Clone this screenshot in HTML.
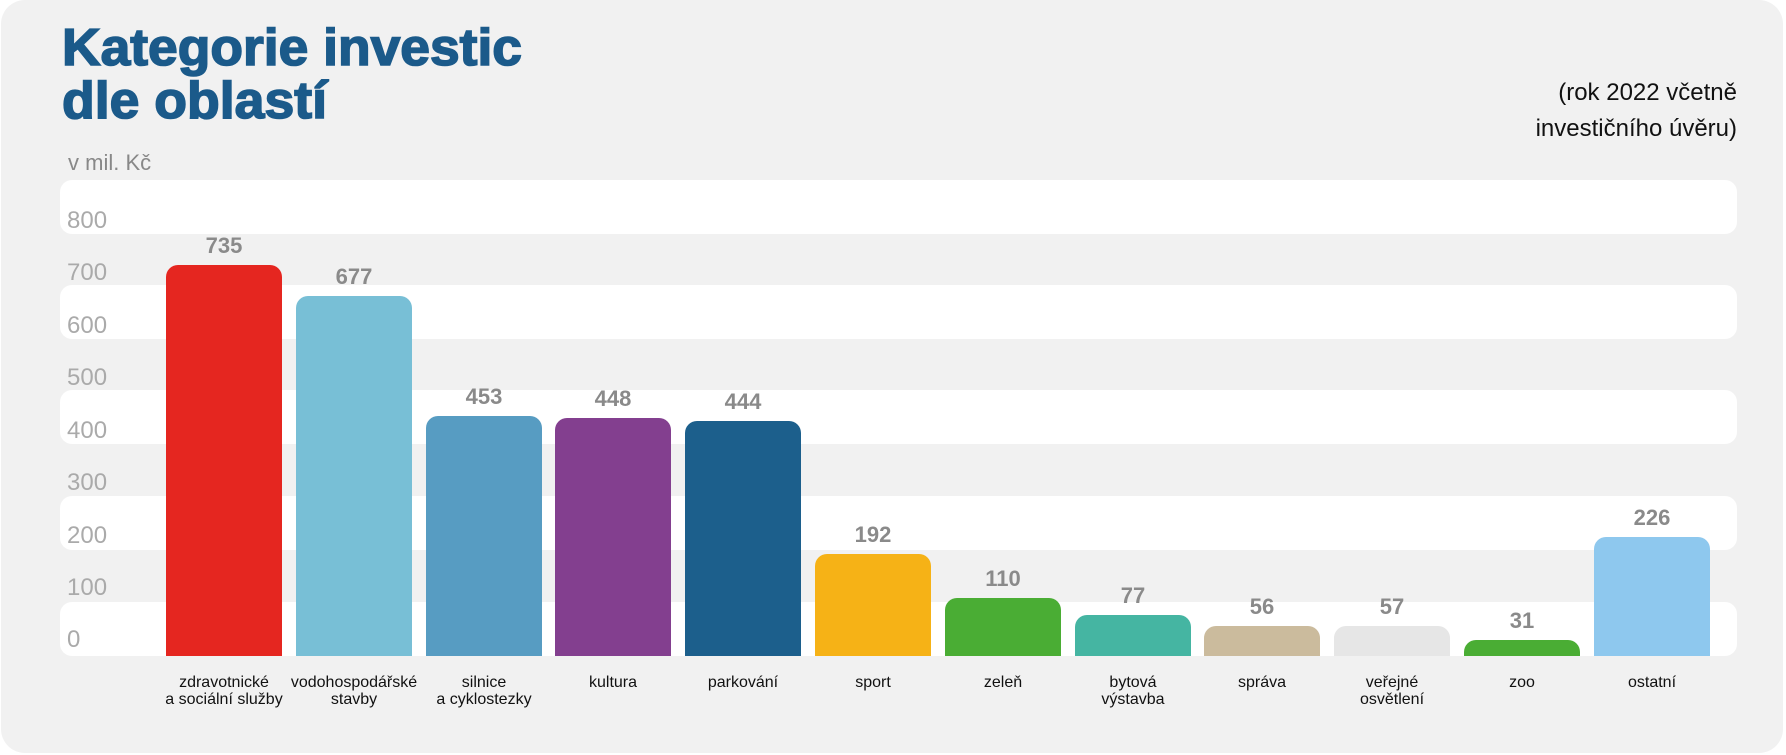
<!DOCTYPE html>
<html><head><meta charset="utf-8"><style>
html,body{margin:0;padding:0;background:#fff;}
svg{display:block;font-family:"Liberation Sans",sans-serif;}
</style></head><body>
<svg width="1786" height="755" viewBox="0 0 1786 755" xmlns="http://www.w3.org/2000/svg">
<rect x="1" y="0" width="1782" height="753" rx="24" fill="#f1f1f1"/>
<text x="62" y="65" font-size="52" font-weight="bold" fill="#1b5a8a" stroke="#1b5a8a" stroke-width="1.6" textLength="460" lengthAdjust="spacingAndGlyphs">Kategorie investic</text>
<text x="62" y="118" font-size="52" font-weight="bold" fill="#1b5a8a" stroke="#1b5a8a" stroke-width="1.6" textLength="265" lengthAdjust="spacingAndGlyphs">dle oblastí</text>
<text x="1737" y="100" font-size="24" fill="#111" text-anchor="end">(rok 2022 včetně</text>
<text x="1737" y="136" font-size="24" fill="#111" text-anchor="end">investičního úvěru)</text>
<text x="68" y="170" font-size="22" fill="#888">v mil. Kč</text>
<g fill="#fff">
<rect x="60" y="180" width="1677" height="54" rx="12"/>
<rect x="60" y="285" width="1677" height="54" rx="12"/>
<rect x="60" y="390" width="1677" height="54" rx="12"/>
<rect x="60" y="496" width="1677" height="54" rx="12"/>
<rect x="60" y="602" width="1677" height="54" rx="12"/>
</g>
<g font-size="24" fill="#aaa">
<text x="67" y="228">800</text><text x="67" y="280">700</text><text x="67" y="333">600</text>
<text x="67" y="385">500</text><text x="67" y="438">400</text><text x="67" y="490">300</text>
<text x="67" y="543">200</text><text x="67" y="595">100</text><text x="67" y="647">0</text>
</g>
<g>
<path d="M166,656 V277 a12,12 0 0 1 12,-12 H270 a12,12 0 0 1 12,12 V656 Z" fill="#e52620"/>
<path d="M296,656 V308 a12,12 0 0 1 12,-12 H400 a12,12 0 0 1 12,12 V656 Z" fill="#78bfd6"/>
<path d="M426,656 V428 a12,12 0 0 1 12,-12 H530 a12,12 0 0 1 12,12 V656 Z" fill="#579cc2"/>
<path d="M555,656 V430 a12,12 0 0 1 12,-12 H659 a12,12 0 0 1 12,12 V656 Z" fill="#833f8f"/>
<path d="M685,656 V433 a12,12 0 0 1 12,-12 H789 a12,12 0 0 1 12,12 V656 Z" fill="#1c5f8c"/>
<path d="M815,656 V566 a12,12 0 0 1 12,-12 H919 a12,12 0 0 1 12,12 V656 Z" fill="#f6b216"/>
<path d="M945,656 V610 a12,12 0 0 1 12,-12 H1049 a12,12 0 0 1 12,12 V656 Z" fill="#4aad34"/>
<path d="M1075,656 V627 a12,12 0 0 1 12,-12 H1179 a12,12 0 0 1 12,12 V656 Z" fill="#45b5a2"/>
<path d="M1204,656 V638 a12,12 0 0 1 12,-12 H1308 a12,12 0 0 1 12,12 V656 Z" fill="#cbbb9d"/>
<path d="M1334,656 V638 a12,12 0 0 1 12,-12 H1438 a12,12 0 0 1 12,12 V656 Z" fill="#e6e6e6"/>
<path d="M1464,656 V652 a12,12 0 0 1 12,-12 H1568 a12,12 0 0 1 12,12 V656 Z" fill="#4aad34"/>
<path d="M1594,656 V549 a12,12 0 0 1 12,-12 H1698 a12,12 0 0 1 12,12 V656 Z" fill="#8ec8ee"/>
</g>
<g font-size="22" font-weight="bold" fill="#8a8a8a" text-anchor="middle">
<text x="224" y="253">735</text><text x="354" y="284">677</text><text x="484" y="404">453</text>
<text x="613" y="406">448</text><text x="743" y="409">444</text><text x="873" y="542">192</text>
<text x="1003" y="586">110</text><text x="1133" y="603">77</text><text x="1262" y="614">56</text>
<text x="1392" y="614">57</text><text x="1522" y="628">31</text><text x="1652" y="525">226</text>
</g>
<g font-size="16" fill="#111" text-anchor="middle">
<text x="224" y="687">zdravotnické</text><text x="224" y="704">a sociální služby</text>
<text x="354" y="687">vodohospodářské</text><text x="354" y="704">stavby</text>
<text x="484" y="687">silnice</text><text x="484" y="704">a cyklostezky</text>
<text x="613" y="687">kultura</text>
<text x="743" y="687">parkování</text>
<text x="873" y="687">sport</text>
<text x="1003" y="687">zeleň</text>
<text x="1133" y="687">bytová</text><text x="1133" y="704">výstavba</text>
<text x="1262" y="687">správa</text>
<text x="1392" y="687">veřejné</text><text x="1392" y="704">osvětlení</text>
<text x="1522" y="687">zoo</text>
<text x="1652" y="687">ostatní</text>
</g>
</svg>
</body></html>
